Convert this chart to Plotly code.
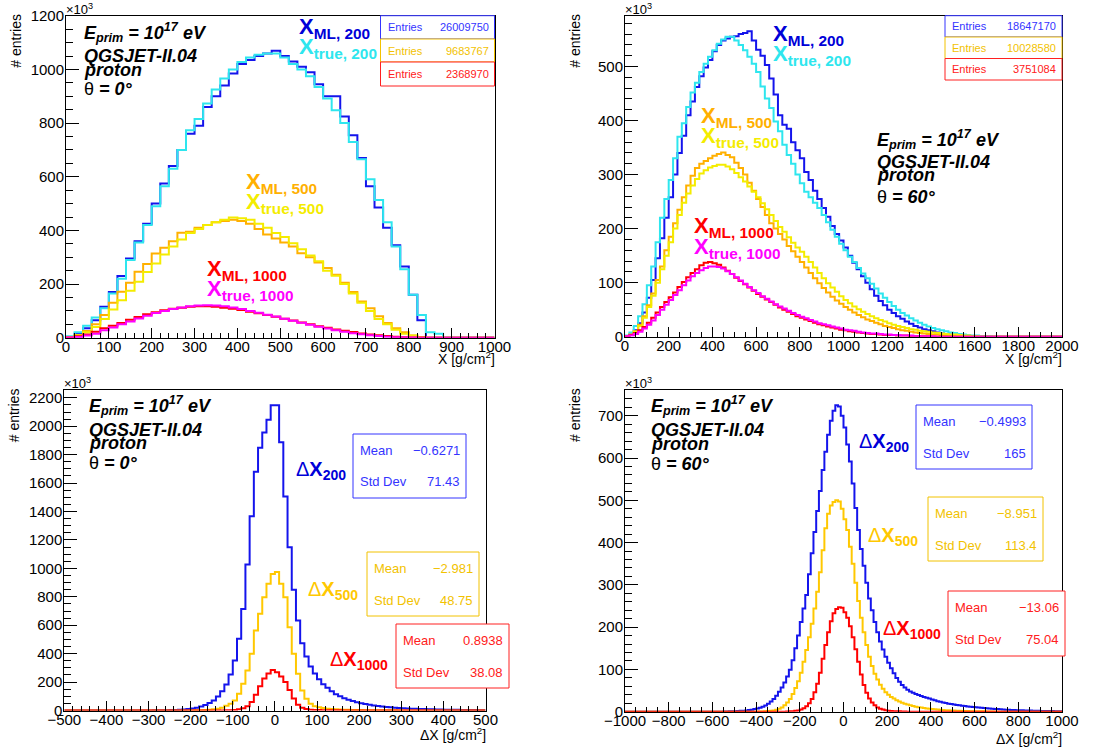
import plotly.graph_objects as go

W, H = 1093, 749
FONT = "Liberation Sans, Arial, Helvetica, sans-serif"

# ---------------- histogram contents (entries in units of 10^3) ----------------
# Panel 1: theta = 0 deg, X in [0, 1000], 20 g/cm2 bins
TL_X0, TL_DX = 0, 20
TL_ML200 = [3, 15, 35, 65, 115, 170, 230, 295, 360, 425,
            500, 575, 640, 700, 760, 790, 860, 900, 940, 985,
            1020, 1035, 1050, 1060, 1070, 1050, 1030, 1010, 990, 945,
            900, 900, 825, 755, 670, 565, 485, 410, 345, 265,
            160, 65, 0, 0, 0, 0, 0, 0, 0, 0]
TL_TRUE200 = [5, 20, 45, 75, 110, 165, 220, 290, 355, 420,
              490, 565, 630, 700, 773, 815, 873, 925, 966, 1000,
              1028, 1045, 1055, 1060, 1060, 1045, 1020, 1000, 975, 935,
              892, 848, 800, 730, 665, 591, 513, 430, 340, 255,
              160, 85, 20, 15, 0, 0, 0, 0, 0, 0]
TL_ML500 = [2, 10, 25, 50, 85, 130, 171, 205, 246, 275,
            314, 335, 360, 391, 395, 410, 420, 430, 435, 440,
            435, 425, 405, 385, 370, 355, 340, 315, 300, 280,
            260, 235, 205, 170, 135, 110, 80, 55, 35, 20,
            8, 3, 0, 0, 0, 0, 0, 0, 0, 0]
TL_TRUE500 = [2, 8, 20, 40, 70, 105, 140, 175, 209, 245,
              277, 310, 340, 366, 390, 405, 420, 430, 440, 448,
              445, 440, 425, 410, 390, 375, 352, 330, 306, 285,
              250, 231, 200, 165, 130, 100, 70, 50, 30, 15,
              8, 3, 0, 0, 0, 0, 0, 0, 0, 0]
TL_ML1000 = [1, 5, 12, 22, 35, 45, 55, 67, 77, 87,
             95, 102, 108, 112, 115, 117, 117, 115, 112, 108,
             103, 97, 91, 85, 78, 71, 64, 57, 50, 43,
             37, 31, 26, 21, 16, 12, 9, 6, 4, 2,
             1, 1, 0, 0, 0, 0, 0, 0, 0, 0]
TL_TRUE1000 = [1, 3, 8, 15, 28, 38, 50, 60, 72, 82,
               92, 100, 107, 113, 117, 120, 121, 120, 117, 113,
               107, 100, 93, 86, 79, 71, 63, 56, 48, 41,
               34, 28, 22, 17, 13, 9, 6, 4, 2, 1,
               1, 0, 0, 0, 0, 0, 0, 0, 0, 0]

# Panel 2: theta = 60 deg, X in [0, 2000], 20 g/cm2 bins
TR_X0, TR_DX = 0, 20
TR_ML200 = [1, 4, 12, 25, 45, 72, 105, 145, 182, 220,
            258, 300, 340, 372, 410, 435, 462, 482, 498, 512,
            528, 540, 548, 552, 555, 556, 560, 562, 565, 548,
            531, 520, 503, 478, 448, 410, 392, 385, 360, 345,
            330, 305, 290, 270, 255, 238, 222, 205, 190, 178,
            165, 150, 137, 125, 112, 100, 88, 76, 66, 58,
            50, 44, 38, 33, 28, 24, 20, 17, 14, 12,
            10, 8, 6, 5, 4, 3, 2, 2, 1, 1,
            1, 0, 0, 0, 0, 0, 0, 0, 0, 0,
            0, 0, 0, 0, 0, 0, 0, 0, 0, 0]
TR_TRUE200 = [2, 8, 20, 38, 60, 95, 130, 175, 220, 255,
              290, 330, 370, 395, 425, 452, 470, 490, 505, 518,
              530, 542, 550, 555, 555, 548, 540, 530, 518, 505,
              490, 463, 441, 423, 398, 380, 355, 336, 320, 300,
              284, 268, 258, 248, 238, 225, 212, 198, 185, 172,
              160, 148, 138, 127, 117, 108, 98, 89, 80, 72,
              64, 57, 50, 44, 39, 34, 30, 26, 22, 19,
              16, 14, 12, 10, 8, 7, 5, 4, 3, 2,
              2, 1, 1, 1, 0, 0, 0, 0, 0, 0,
              0, 0, 0, 0, 0, 0, 0, 0, 0, 0]
TR_ML500 = [1, 4, 10, 22, 38, 58, 80, 105, 130, 160,
            185, 210, 235, 258, 280, 298, 312, 320, 325, 330,
            335, 338, 341, 336, 332, 322, 312, 300, 285, 270,
            255, 240, 225, 210, 200, 190, 180, 168, 158, 148,
            138, 128, 118, 108, 99, 90, 82, 74, 67, 61,
            55, 50, 45, 40, 36, 32, 29, 26, 23, 20,
            18, 16, 14, 12, 11, 9, 8, 7, 6, 5,
            4, 4, 3, 3, 2, 2, 1, 1, 1, 0,
            0, 0, 0, 0, 0, 0, 0, 0, 0, 0,
            0, 0, 0, 0, 0, 0, 0, 0, 0, 0]
TR_TRUE500 = [1, 3, 9, 20, 35, 55, 76, 100, 125, 150,
              175, 200, 225, 248, 265, 280, 292, 302, 308, 313,
              316, 318, 318, 315, 310, 303, 295, 287, 278, 268,
              258, 247, 236, 225, 214, 203, 194, 184, 174, 165,
              157, 148, 138, 128, 118, 108, 99, 91, 83, 75,
              68, 62, 56, 51, 46, 42, 38, 34, 31, 28,
              25, 22, 20, 18, 16, 14, 13, 11, 10, 9,
              8, 7, 6, 5, 4, 4, 3, 2, 2, 1,
              1, 0, 0, 0, 0, 0, 0, 0, 0, 0,
              0, 0, 0, 0, 0, 0, 0, 0, 0, 0]
TR_ML1000 = [1, 3, 7, 12, 18, 26, 35, 45, 55, 64,
             73, 82, 92, 101, 110, 118, 125, 132, 137, 138,
             136, 133, 128, 122, 116, 109, 103, 97, 91, 85,
             79, 74, 69, 64, 59, 54, 50, 46, 42, 38,
             35, 32, 29, 26, 23, 21, 19, 17, 15, 13,
             12, 10, 9, 8, 7, 6, 5, 5, 4, 3,
             3, 3, 2, 2, 2, 1, 1, 1, 1, 1,
             0, 0, 0, 0, 0, 0, 0, 0, 0, 0,
             0, 0, 0, 0, 0, 0, 0, 0, 0, 0,
             0, 0, 0, 0, 0, 0, 0, 0, 0, 0]
TR_TRUE1000 = [1, 2, 5, 9, 15, 22, 30, 40, 50, 59,
               68, 77, 86, 95, 104, 112, 118, 123, 127, 130,
               130, 129, 126, 121, 116, 110, 104, 98, 92, 86,
               81, 75, 70, 65, 60, 56, 52, 48, 44, 40,
               37, 34, 31, 28, 25, 23, 21, 19, 17, 15,
               13, 12, 11, 9, 8, 7, 6, 6, 5, 4,
               4, 3, 3, 2, 2, 2, 1, 1, 1, 1,
               1, 0, 0, 0, 0, 0, 0, 0, 0, 0,
               0, 0, 0, 0, 0, 0, 0, 0, 0, 0,
               0, 0, 0, 0, 0, 0, 0, 0, 0, 0]

# Panel 3: residuals, theta = 0 deg, dX in [-500, 500], 10 g/cm2 bins
BL_X0, BL_DX = -500, 10
BL_D200 = [0, 0, 0, 0, 0, 0, 0, 0, 0, 0,
           0, 0, 0, 0, 0, 0, 0, 0, 0.3, 0.5,
           0.5, 1, 1, 1.5, 2, 3, 4, 5, 7, 10,
           14, 20, 28, 38, 52, 70, 98, 136, 183, 253,
           352, 504, 715, 1027, 1367, 1680, 1848, 1956, 2045, 2148,
           2148, 1888, 1506, 1149, 849, 633, 474, 380, 310, 260,
           220, 185, 160, 135, 115, 100, 87, 76, 66, 58,
           51, 45, 40, 35, 31, 28, 25, 22, 20, 18,
           16, 14, 13, 12, 11, 10, 9, 8, 7, 6.5,
           6, 5.5, 5, 4.5, 4, 3.5, 3, 3, 2.5, 2.5]
BL_D500 = [0, 0, 0, 0, 0, 0, 0, 0, 0, 0,
           0, 0, 0, 0, 0, 0, 0, 0, 0, 0,
           0, 0, 0, 0, 0, 0, 0, 0, 0, 0,
           0.5, 1, 2, 3, 5, 8, 12, 20, 33, 47,
           70, 117, 188, 281, 399, 563, 680, 797, 891, 960,
           975, 891, 797, 586, 399, 258, 141, 82, 47, 30,
           22, 17, 13, 10, 8, 7, 6, 5, 4, 3.5,
           3, 2.5, 2, 2, 1.5, 1.5, 1, 1, 1, 0.5,
           0.5, 0, 0, 0, 0, 0, 0, 0, 0, 0,
           0, 0, 0, 0, 0, 0, 0, 0, 0, 0]
BL_D1000 = [0, 0, 0, 0, 0, 0, 0, 0, 0, 0,
            0, 0, 0, 0, 0, 0, 0, 0, 0, 0,
            0, 0, 0, 0, 0, 0, 0, 0, 0, 0,
            0, 0, 0, 0, 0, 0, 0, 0, 1, 2,
            4, 8, 15, 30, 60, 110, 170, 225, 260, 285,
            270, 240, 200, 145, 85, 40, 20, 10, 6, 4,
            3, 2, 2, 1, 1, 1, 0.5, 0, 0, 0,
            0, 0, 0, 0, 0, 0, 0, 0, 0, 0,
            0, 0, 0, 0, 0, 0, 0, 0, 0, 0,
            0, 0, 0, 0, 0, 0, 0, 0, 0, 0]

# Panel 4: residuals, theta = 60 deg, dX in [-1000, 1000], 12.5 g/cm2 bins
BR_X0, BR_DX = -1000, 12.5
BR_D200 = [0, 0, 0, 0, 0, 0, 0, 0, 0, 0,
           0, 0, 0, 0, 0, 0, 0, 0, 0, 0,
           0, 0, 0, 0, 0, 0, 0, 0, 0, 0,
           0, 0, 0, 0, 0, 0, 0.5, 0.6, 0.8, 1.0,
           1.3, 1.6, 2.0, 2.5, 3.1, 3.9, 4.9, 6.1, 7.6, 9.5,
           11.8, 14.6, 19, 24, 30, 38, 47, 57, 69, 83,
           99, 122, 150, 180, 212, 244, 276, 325, 375, 425,
           475, 522, 572, 615, 655, 688, 712, 725, 722, 700,
           672, 632, 592, 540, 482, 430, 385, 345, 305, 268,
           240, 212, 188, 166, 147, 130, 116, 103, 91, 80,
           71, 63, 57, 52, 48, 45, 42, 39.5, 37, 35,
           33, 31, 29, 27, 25, 23.5, 22, 20.5, 19, 18,
           17, 16, 15, 14, 13.2, 12.4, 11.7, 11, 10.4, 9.8,
           9.2, 8.6, 8.0, 7.5, 7.0, 6.5, 6.1, 5.7, 5.3, 4.9,
           4.6, 4.3, 4.0, 3.7, 3.4, 3.2, 3.0, 2.8, 2.6, 2.4,
           2.2, 2.0, 1.9, 1.7, 1.6, 1.5, 1.4, 1.3, 1.2, 1.1]
BR_D500 = [0, 0, 0, 0, 0, 0, 0, 0, 0, 0,
           0, 0, 0, 0, 0, 0, 0, 0, 0, 0,
           0, 0, 0, 0, 0, 0, 0, 0, 0, 0,
           0, 0, 0, 0, 0, 0, 0, 0, 0, 0,
           0, 0, 0, 0, 0, 0, 0, 0, 0, 0.5,
           0.7, 1.0, 1.4, 2.0, 2.9, 4.5, 7, 10, 15, 22,
           30, 42, 56, 72, 92, 118, 146, 176, 208, 244,
           284, 330, 382, 434, 468, 488, 496, 500, 497, 480,
           455, 430, 390, 350, 305, 262, 222, 188, 158, 130,
           108, 90, 76, 64, 54, 46, 40, 35, 31, 27,
           24, 21, 19, 17, 15, 13.5, 12, 10.8, 9.7, 8.7,
           7.8, 7, 6.3, 5.6, 5, 4.5, 4, 3.6, 3.2, 2.9,
           2.6, 2.3, 2.1, 1.9, 1.7, 1.5, 1.3, 1.2, 1.1, 1.0,
           0.9, 0.8, 0.7, 0.6, 0.5, 0, 0, 0, 0, 0,
           0, 0, 0, 0, 0, 0, 0, 0, 0, 0,
           0, 0, 0, 0, 0, 0, 0, 0, 0, 0]
BR_D1000 = [0, 0, 0, 0, 0, 0, 0, 0, 0, 0,
            0, 0, 0, 0, 0, 0, 0, 0, 0, 0,
            0, 0, 0, 0, 0, 0, 0, 0, 0, 0,
            0, 0, 0, 0, 0, 0, 0, 0, 0, 0,
            0, 0, 0, 0, 0, 0, 0, 0, 0, 0,
            0, 0, 0, 0, 0, 0, 0, 0, 0, 0.5,
            0.8, 1.2, 2, 3, 5, 8, 13, 20, 30, 46,
            66, 92, 125, 158, 188, 214, 233, 243, 247, 246,
            235, 222, 202, 176, 148, 118, 88, 63, 45, 31,
            22, 15, 10, 7, 5, 3.5, 2.5, 1.8, 1.3, 1.0,
            0.8, 0.6, 0.5, 0, 0, 0, 0, 0, 0, 0,
            0, 0, 0, 0, 0, 0, 0, 0, 0, 0,
            0, 0, 0, 0, 0, 0, 0, 0, 0, 0,
            0, 0, 0, 0, 0, 0, 0, 0, 0, 0,
            0, 0, 0, 0, 0, 0, 0, 0, 0, 0,
            0, 0, 0, 0, 0, 0, 0, 0, 0, 0]

# Statistics-box contents
TL_ENTRIES = ["26009750", "9683767", "2368970"]
TR_ENTRIES = ["18647170", "10028580", "3751084"]
BL_STATS = [("\u22120.6271", "71.43"), ("\u22122.981", "48.75"), ("0.8938", "38.08")]
BR_STATS = [("\u22120.4993", "165"), ("\u22128.951", "113.4"), ("\u221213.06", "75.04")]
THETAS = ["0", "60", "0", "60"]

# ---------------- colours ----------------
C_BLUE = "#1414ec"
C_BLUE_TXT = "#0000d8"
C_CYAN = "#2ee6ee"
C_ORANGE = "#ffb000"
C_YELLOW = "#f4ec00"
C_GOLD = "#ffc800"
C_RED = "#ff0000"
C_MAGENTA = "#ff00ff"
S_BLUE = "#3434ff"
S_GOLD = "#f2c200"
S_RED = "#ff2020"


def fx(x):
    return x / W


def fy(y):
    return 1 - y / H


def hist(x0, dx, vals, color, n, width=2):
    xs = [x0 + dx * i for i in range(len(vals) + 1)]
    ys = list(vals) + [vals[-1]]
    sfx = "" if n == 1 else str(n)
    return go.Scatter(x=xs, y=ys, mode="lines",
                      line=dict(color=color, width=width, shape="hv"),
                      xaxis="x" + sfx, yaxis="y" + sfx,
                      hoverinfo="skip", showlegend=False)


fig = go.Figure()

for vals, col in [(TL_ML200, C_BLUE), (TL_TRUE200, C_CYAN), (TL_ML500, C_ORANGE),
                  (TL_TRUE500, C_YELLOW), (TL_ML1000, C_RED), (TL_TRUE1000, C_MAGENTA)]:
    fig.add_trace(hist(TL_X0, TL_DX, vals, col, 1))
for vals, col in [(TR_ML200, C_BLUE), (TR_TRUE200, C_CYAN), (TR_ML500, C_ORANGE),
                  (TR_TRUE500, C_YELLOW), (TR_ML1000, C_RED), (TR_TRUE1000, C_MAGENTA)]:
    fig.add_trace(hist(TR_X0, TR_DX, vals, col, 2))
for vals, col in [(BL_D200, C_BLUE), (BL_D500, C_GOLD), (BL_D1000, C_RED)]:
    fig.add_trace(hist(BL_X0, BL_DX, vals, col, 3))
for vals, col in [(BR_D200, C_BLUE), (BR_D500, C_GOLD), (BR_D1000, C_RED)]:
    fig.add_trace(hist(BR_X0, BR_DX, vals, col, 4))

# ---------------- frames and axes (pixel geometry) ----------------
PANELS = {
    1: dict(frame=(66, 494.5, 15.7, 337.7), xr=[0, 1000], yr=[0, 1200.5], xd=100, xm=20, yd=200, ym=50, tdy=20),
    2: dict(frame=(625, 1062, 15.7, 336.7), xr=[0, 2000], yr=[0, 594], xd=200, xm=50, yd=100, ym=20, tdy=21),
    3: dict(frame=(64.3, 485.5, 390, 710.5), xr=[-500, 500], yr=[0, 2255], xd=100, xm=20, yd=200, ym=50, tdy=23),
    4: dict(frame=(625, 1062, 390, 711.7), xr=[-1000, 1000], yr=[0, 761], xd=200, xm=50, yd=100, ym=20, tdy=26),
}

layout_axes = {}
for n, p in PANELS.items():
    x0, x1, yt, yb = p["frame"]
    sfx = "" if n == 1 else str(n)
    common = dict(showline=True, linecolor="black", linewidth=1, mirror=True,
                  showgrid=False, zeroline=False, ticks="inside", tickcolor="black",
                  tickwidth=1, tick0=0, automargin=False,
                  tickfont=dict(family=FONT, size=15, color="black"))
    layout_axes["xaxis" + sfx] = dict(
        common, domain=[fx(x0), fx(x1)], range=p["xr"], dtick=p["xd"], ticklen=10,
        anchor="y" + sfx, ticklabelstandoff=-5,
        minor=dict(dtick=p["xm"], ticks="inside", ticklen=5, tickcolor="black", tickwidth=1))
    layout_axes["yaxis" + sfx] = dict(
        common, domain=[fy(yb), fy(yt)], range=p["yr"], dtick=p["yd"], ticklen=13,
        anchor="x" + sfx, ticklabelstandoff=-2,
        minor=dict(dtick=p["ym"], ticks="inside", ticklen=7, tickcolor="black", tickwidth=1))

annotations = []
shapes = []


def note(text, x, y, size, color="black", xanchor="left", yanchor="middle", angle=0):
    annotations.append(dict(text=text, x=fx(x), y=fy(y), xref="paper", yref="paper",
                            showarrow=False, xanchor=xanchor, yanchor=yanchor,
                            textangle=angle, borderpad=0,
                            font=dict(family=FONT, size=size, color=color)))


# axis titles and exponent markers
for n, p in PANELS.items():
    x0, x1, yt, yb = p["frame"]
    note("# entries", x0 - 50, yt + 25, 14, angle=-90, xanchor="center")
    note("\u00d710<sup>3</sup>", x0 - 1, yt - 7, 13, yanchor="middle")
    title = "X [g/cm<sup>2</sup>]" if n <= 2 else "\u0394X [g/cm<sup>2</sup>]"
    note(title, x1 + 1, yb + p["tdy"], 14, xanchor="right")

# shower description blocks
INFO_POS = {1: (83, [33, 56, 69.5, 89]), 2: (876, [139, 161.5, 175, 196.5]),
            3: (88, [406, 429.5, 443, 462.5]), 4: (649.5, [406, 430, 444, 463.5])}
for n, (x, ys) in INFO_POS.items():
    lines = ["<b><i>E<sub>prim</sub> = 10<sup>17</sup> eV</i></b>",
             "<b><i>QGSJET-II.04</i></b>",
             "<b><i>proton</i></b>",
             "\u03b8 <b><i>= " + THETAS[n - 1] + "\u00b0</i></b>"]
    for txt, y in zip(lines, ys):
        note(txt, x, y, 18)


def xlab(kind, dist):
    return "<b>X<sub>" + kind + ", " + dist + "</sub></b>"


def dlab(dist):
    return "\u0394<b>X<sub>" + dist + "</sub></b>"


# series labels, panel 1
note(xlab("ML", "200"), 298, 28, 22, C_BLUE_TXT)
note(xlab("true", "200"), 298, 48, 22, C_CYAN)
note(xlab("ML", "500"), 245, 183, 22, C_ORANGE)
note(xlab("true", "500"), 245, 203, 22, C_YELLOW)
note(xlab("ML", "1000"), 206, 270, 22, C_RED)
note(xlab("true", "1000"), 206, 290, 22, C_MAGENTA)
# series labels, panel 2
note(xlab("ML", "200"), 772, 35, 22, C_BLUE_TXT)
note(xlab("true", "200"), 772, 55, 22, C_CYAN)
note(xlab("ML", "500"), 700, 117, 22, C_ORANGE)
note(xlab("true", "500"), 700, 137, 22, C_YELLOW)
note(xlab("ML", "1000"), 693, 227, 22, C_RED)
note(xlab("true", "1000"), 693, 248, 22, C_MAGENTA)
# residual labels
note(dlab("200"), 295, 470, 20, C_BLUE_TXT)
note(dlab("500"), 307, 590, 20, C_GOLD)
note(dlab("1000"), 329, 660, 20, C_RED)
note(dlab("200"), 858, 442, 20, C_BLUE_TXT)
note(dlab("500"), 867, 536, 20, C_GOLD)
note(dlab("1000"), 882, 629, 20, C_RED)


def stat_box(x0, x1, y0, y1, color, rows, size):
    shapes.append(dict(type="rect", xref="paper", yref="paper", x0=fx(x0), x1=fx(x1),
                       y0=fy(y1), y1=fy(y0), line=dict(color=color, width=1),
                       fillcolor="white", layer="above"))
    h = (y1 - y0) / len(rows)
    for k, (lab, val) in enumerate(rows):
        yc = y0 + (k + 0.5) * h
        note(lab, x0 + 6, yc, size, color)
        note(val, x1 - 5, yc, size, color, xanchor="right")


STAT_COLS = [S_BLUE, S_GOLD, S_RED]
for k, (y0, y1) in enumerate([(15.7, 39), (39, 62), (62, 86)]):
    stat_box(380.5, 494.5, y0, y1, STAT_COLS[k], [("Entries", TL_ENTRIES[k])], 11)
for k, (y0, y1) in enumerate([(15.7, 37), (37, 58.5), (58.5, 80)]):
    stat_box(945, 1062, y0, y1, STAT_COLS[k], [("Entries", TR_ENTRIES[k])], 11)
for k, (x0, x1, y0, y1) in enumerate([(353, 466, 434, 498), (367, 479, 552, 616), (396, 509, 624, 688)]):
    m, s = BL_STATS[k]
    stat_box(x0, x1, y0, y1, STAT_COLS[k], [("Mean", m), ("Std Dev", s)], 13)
for k, (x0, x1, y0, y1) in enumerate([(916, 1032, 405, 469), (928, 1043, 497, 561), (948, 1065, 591, 656)]):
    m, s = BR_STATS[k]
    stat_box(x0, x1, y0, y1, STAT_COLS[k], [("Mean", m), ("Std Dev", s)], 13)

fig.update_layout(
    width=W, height=H, margin=dict(l=0, r=0, t=0, b=0, pad=0, autoexpand=False),
    paper_bgcolor="white", plot_bgcolor="white",
    showlegend=False, annotations=annotations, shapes=shapes,
    font=dict(family=FONT, color="black"),
    **layout_axes,
)

fig.write_html("out.html")
